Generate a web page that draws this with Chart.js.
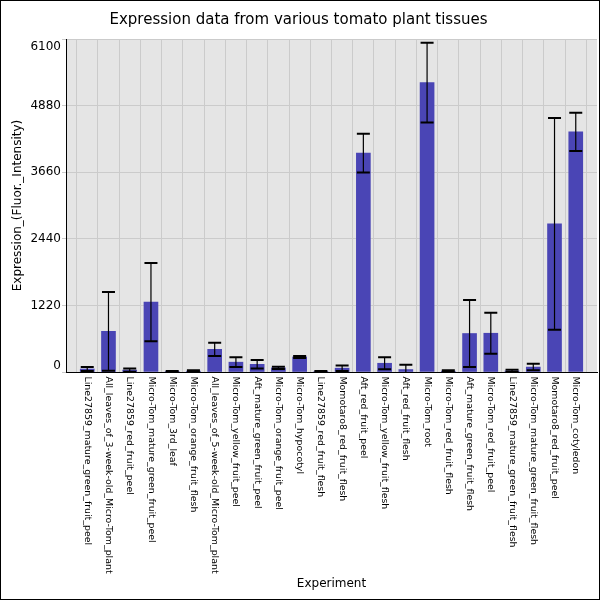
<!DOCTYPE html>
<html>
<head>
<meta charset="utf-8">
<script src="https://cdn.jsdelivr.net/npm/chart.js@4.4.1/dist/chart.umd.min.js"></script>
<style>
  html, body { margin: 0; padding: 0; background: #fff; }
</style>
</head>
<body>
<canvas id="chart" width="600" height="600"></canvas>
<script>
const experiments = [
  'Line27859_mature_green_fruit_peel',
  'All_leaves_of_3-week-old_Micro-Tom_plant',
  'Line27859_red_fruit_peel',
  'Micro-Tom_mature_green_fruit_peel',
  'Micro-Tom_3rd_leaf',
  'Micro-Tom_orange_fruit_flesh',
  'All_leaves_of_5-week-old_Micro-Tom_plant',
  'Micro-Tom_yellow_fruit_peel',
  'Aft_mature_green_fruit_peel',
  'Micro-Tom_orange_fruit_peel',
  'Micro-Tom_hypocotyl',
  'Line27859_red_fruit_flesh',
  'Momotaro8_red_fruit_flesh',
  'Aft_red_fruit_peel',
  'Micro-Tom_yellow_fruit_flesh',
  'Aft_red_fruit_flesh',
  'Micro-Tom_root',
  'Micro-Tom_red_fruit_flesh',
  'Aft_mature_green_fruit_flesh',
  'Micro-Tom_red_fruit_peel',
  'Line27859_mature_green_fruit_flesh',
  'Micro-Tom_mature_green_fruit_flesh',
  'Momotaro8_red_fruit_peel',
  'Micro-Tom_cotyledon'
];
const expression = [55, 745, 35, 1280, 10, 15, 415, 180, 140, 75, 275, 10,
                    70, 4010, 160, 45, 5300, 15, 705, 710, 20, 90, 2715, 4400];
const stdDev = [35, 720, 30, 715, 10, 15, 120, 90, 78, 22, 20, 8,
                50, 355, 110, 90, 730, 15, 615, 375, 20, 60, 1940, 350];
const yTicks = [0, 1220, 2440, 3660, 4880, 6100];

Chart.defaults.font.family = 'DejaVu Sans';
Chart.defaults.color = '#000';

// plot background, error bars, rotated labels and frame
const tissuePlot = {
  id: 'tissuePlot',
  beforeDraw(chart) {
    const { ctx, chartArea: a } = chart;
    ctx.save();
    ctx.fillStyle = '#fff';
    ctx.fillRect(0, 0, chart.width, chart.height);
    ctx.fillStyle = '#e5e5e5';
    ctx.fillRect(a.left, a.top, a.right - a.left, a.bottom - a.top);
    ctx.restore();
  },
  afterDatasetsDraw(chart) {
    const { ctx, chartArea: a, scales: { x, y } } = chart;
    ctx.save();
    ctx.beginPath();
    ctx.rect(a.left, a.top, a.right - a.left, a.bottom - a.top);
    ctx.clip();
    ctx.strokeStyle = '#000';
    expression.forEach((v, i) => {
      const cx = x.getPixelForValue(i + 1);
      const hi = y.getPixelForValue(v + stdDev[i]);
      const lo = y.getPixelForValue(v - stdDev[i]);
      ctx.lineWidth = 1.2;
      ctx.beginPath();
      ctx.moveTo(cx, hi);
      ctx.lineTo(cx, lo);
      ctx.stroke();
      ctx.lineWidth = 2;
      ctx.beginPath();
      ctx.moveTo(cx - 6.5, hi);
      ctx.lineTo(cx + 6.5, hi);
      ctx.moveTo(cx - 6.5, lo);
      ctx.lineTo(cx + 6.5, lo);
      ctx.stroke();
    });
    ctx.restore();
  },
  afterDraw(chart) {
    const { ctx, chartArea: a, scales: { x, y } } = chart;
    ctx.save();
    ctx.fillStyle = '#000';
    ctx.font = '9.4px "DejaVu Sans"';
    ctx.textAlign = 'left';
    ctx.textBaseline = 'middle';
    experiments.forEach((name, i) => {
      ctx.save();
      ctx.translate(x.getPixelForValue(i + 1), x.top + 4.5);
      ctx.rotate(Math.PI / 2);
      ctx.fillText(name, 0, 0);
      ctx.restore();
    });
    ctx.font = '12px "DejaVu Sans"';
    ctx.textAlign = 'right';
    yTicks.forEach(v => {
      const py = Math.min(Math.max(y.getPixelForValue(v), a.top + 8), a.bottom - 6);
      ctx.fillText(String(v), a.left - 5, py);
    });
    ctx.strokeStyle = '#000';
    ctx.lineWidth = 1;
    ctx.strokeRect(0.5, 0.5, chart.width - 1, chart.height - 1);
    ctx.restore();
  }
};

new Chart(document.getElementById('chart'), {
  type: 'bar',
  data: {
    labels: ['', ...experiments, ''],
    datasets: [{
      data: [null, ...expression, null],
      backgroundColor: '#4a45b5',
      barThickness: 14
    }]
  },
  options: {
    responsive: false,
    animation: false,
    layout: { padding: { left: 0, right: 3, top: 0, bottom: 0 } },
    plugins: {
      legend: { display: false },
      tooltip: { enabled: false },
      title: {
        display: true,
        text: 'Expression data from various tomato plant tissues',
        color: '#000',
        font: { size: 15, weight: 'normal' },
        padding: { top: 11.5, bottom: 9.5 }
      }
    },
    scales: {
      x: {
        offset: false,
        grid: { color: '#cbcbcb', drawTicks: false },
        border: { color: '#000', width: 1 },
        ticks: { display: false },
        title: {
          display: true,
          text: 'Experiment',
          font: { size: 12 },
          padding: { top: 0, bottom: 8.8 }
        },
        afterFit: s => { s.height = 228; }
      },
      y: {
        min: 0,
        max: 6100,
        afterBuildTicks: s => { s.ticks = yTicks.map(v => ({ value: v })); },
        grid: { color: '#cbcbcb', tickLength: 4 },
        border: { color: '#000', width: 1 },
        ticks: { display: false },
        title: {
          display: true,
          text: 'Expression_(Fluor._Intensity)',
          font: { size: 12 },
          padding: { top: 10.8, bottom: 0 }
        },
        afterFit: s => { s.width = 66; }
      }
    }
  },
  plugins: [tissuePlot]
});
</script>
</body>
</html>
